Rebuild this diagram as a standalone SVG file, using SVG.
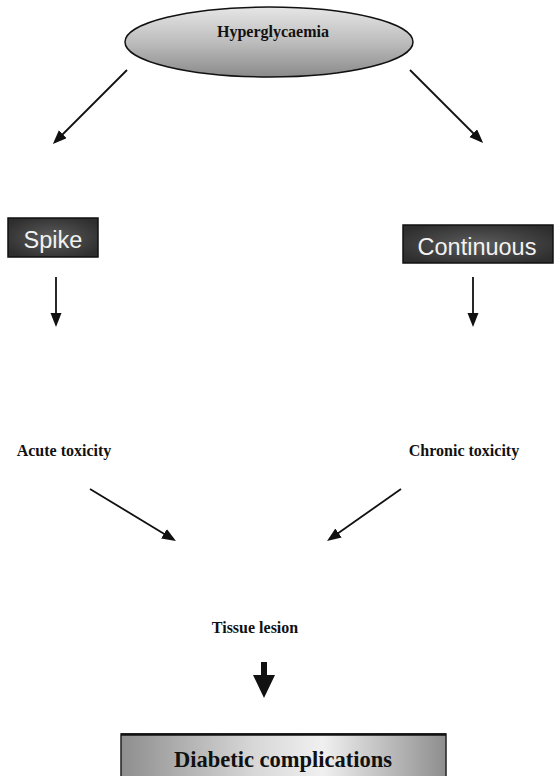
<svg xmlns="http://www.w3.org/2000/svg" width="554" height="776" viewBox="0 0 554 776">
<style>
.lbl{font-family:"Liberation Serif","Times New Roman",serif;font-weight:bold;font-size:16px;fill:#111;text-anchor:middle}
.box{font-family:"Liberation Sans",Arial,sans-serif;font-size:23.5px;fill:#f2f2f2;text-anchor:middle}
.conn{stroke:#111;stroke-width:1.8;fill:none;marker-end:url(#ah)}
.dark{fill:url(#dg);stroke:#111;stroke-width:1.5}
</style>
<defs>
<marker id="ah" markerUnits="userSpaceOnUse" markerWidth="16" markerHeight="12" refX="11" refY="5.5" orient="auto">
<path d="M0,0 L14,5.5 L0,11 z" fill="#111"/>
</marker>
<linearGradient id="eg" x1="0" y1="0" x2="0" y2="1">
<stop offset="0" stop-color="#e6e6e6"/>
<stop offset="0.5" stop-color="#bdbdbd"/>
<stop offset="1" stop-color="#8a8a8a"/>
</linearGradient>
<radialGradient id="dg" cx="0.5" cy="0.5" r="0.6">
<stop offset="0" stop-color="#5c5c5c"/>
<stop offset="1" stop-color="#2e2e2e"/>
</radialGradient>
<linearGradient id="bg" x1="0" y1="0" x2="1" y2="0">
<stop offset="0" stop-color="#8e8e8e"/>
<stop offset="0.4" stop-color="#d6d6d6"/>
<stop offset="0.62" stop-color="#f0f0f0"/>
<stop offset="1" stop-color="#8e8e8e"/>
</linearGradient>
</defs>
<rect width="554" height="776" fill="#fff"/>
<g id="hyperglycaemia">
<ellipse cx="269" cy="42" rx="144" ry="35" fill="url(#eg)" stroke="#111" stroke-width="1.5"/>
<text class="lbl" x="273" y="37">Hyperglycaemia</text>
</g>
<g id="spike">
<rect class="dark" x="8" y="218" width="90" height="39"/>
<text class="box" x="53" y="248">Spike</text>
</g>
<g id="continuous">
<rect class="dark" x="403" y="225" width="150" height="38"/>
<text class="box" x="477" y="255">Continuous</text>
</g>
<g id="acute">
<text class="lbl" x="64" y="456">Acute toxicity</text>
</g>
<g id="chronic">
<text class="lbl" x="464" y="456">Chronic toxicity</text>
</g>
<g id="tissue">
<text class="lbl" x="255" y="633">Tissue lesion</text>
</g>
<g id="complications">
<rect x="121" y="734" width="325" height="50" fill="url(#bg)" stroke="#222" stroke-width="1.5"/>
<line x1="121" y1="734.5" x2="446" y2="734.5" stroke="#111" stroke-width="2.5"/>
<text x="283" y="767" font-family="Liberation Serif,'Times New Roman',serif" font-weight="bold" font-size="22.5" fill="#111" text-anchor="middle">Diabetic complications</text>
</g>
<g id="connectors">
<line class="conn" x1="127" y1="70" x2="55" y2="142"/>
<line class="conn" x1="410" y1="70" x2="481" y2="141"/>
<line class="conn" x1="56" y1="277" x2="56" y2="324"/>
<line class="conn" x1="473" y1="277" x2="473" y2="324"/>
<line class="conn" x1="90" y1="489" x2="173.4" y2="539.4"/>
<line class="conn" x1="401" y1="489" x2="329.5" y2="539.3"/>
<polygon points="261,662 267,662 267,675 275,675 264,698 253,675 261,675" fill="#111"/>
</g>
</svg>
